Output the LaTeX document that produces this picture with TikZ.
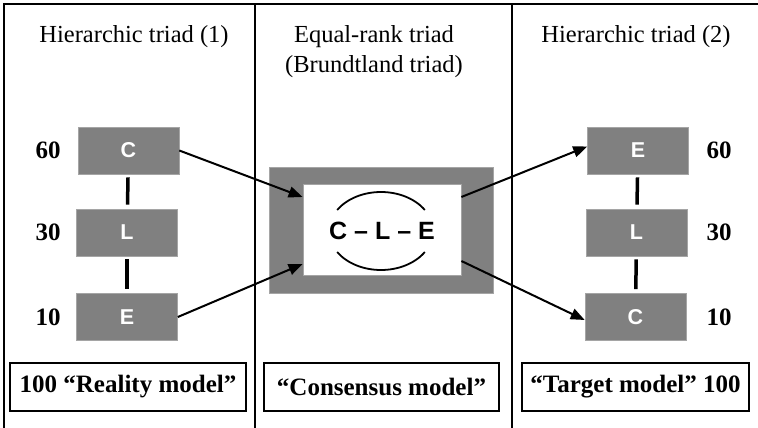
\documentclass[tikz,border=0pt]{standalone}
\usepackage{fontspec}
\setmainfont{Liberation Serif}
\newfontfamily\sansf{Liberation Sans}
\usetikzlibrary{arrows.meta}
\definecolor{boxgray}{RGB}{128,128,128}
\definecolor{boxedge}{RGB}{165,165,165}
\tikzset{
  gbox/.style={fill=boxgray, draw=boxedge, line width=0.6pt, minimum width=101pt, minimum height=47pt, inner sep=0pt, text=white, font=\sansf\bfseries\fontsize{21.5}{25}\selectfont},
  num/.style={inner sep=0pt, font=\bfseries\fontsize{25}{29}\selectfont},
  ttl/.style={inner sep=0pt, anchor=base, font=\fontsize{24.5}{29}\selectfont},
  lbl/.style={draw, line width=1.5pt, minimum height=48pt, inner sep=0pt, font=\bfseries\fontsize{25}{29}\selectfont},
  vlink/.style={line width=3.5pt, shorten <=3pt, shorten >=4pt},
  arr/.style={line width=2pt, -{Triangle[length=14pt,width=11pt]}},
  frame/.style={line width=2pt},
  ring/.style={line width=1.8pt}
}
\begin{document}
\begin{tikzpicture}[x=1pt,y=-1pt]
\useasboundingbox (0,0) rectangle (758,428);
% frame
\draw[frame] (4,428) -- (4,4) -- (758,4);
\draw[frame] (255,4) -- (255,428);
\draw[frame] (512,4) -- (512,428);
% titles
\node[ttl] (t1) at (134,43) {Hierarchic triad (1)};
\node[ttl] (t2a) at (374,43) {Equal-rank triad};
\node[ttl] (t2b) at (374,73) {(Brundtland triad)};
\node[ttl] (t3) at (636,43) {Hierarchic triad (2)};
% left column
\node[gbox] (lC) at (128.5,150.5) {C};
\node[gbox] (lL) at (127,232.5) {L};
\node[gbox] (lE) at (127,317) {E};
\draw[vlink] (lC) -- (lL);
\draw[vlink] (lL) -- (lE);
\node[num] (n60l) at (48,150.5) {60};
\node[num] (n30l) at (48,232.5) {30};
\node[num] (n10l) at (48,317) {10};
% right column
\node[gbox] (rE) at (638,150.5) {E};
\node[gbox] (rL) at (636.5,232.5) {L};
\node[gbox] (rC) at (635.5,317) {C};
\draw[vlink] (rE) -- (rL);
\draw[vlink] (rL) -- (rC);
\node[num] (n60r) at (719,150.5) {60};
\node[num] (n30r) at (719,232.5) {30};
\node[num] (n10r) at (719,317) {10};
% centre
\node[fill=boxgray, draw=boxedge, line width=0.6pt, minimum width=224pt, minimum height=126pt, inner sep=0pt] (outer) at (381,230) {};
\node[fill=white, draw=boxedge, line width=0.8pt, minimum width=158pt, minimum height=91pt, inner sep=0pt] (inner) at (382,229.5) {};
\node[inner sep=0pt, font=\sansf\bfseries\fontsize{25}{29}\selectfont] (cle) at (382,231) {C – L – E};
\draw[ring] plot[domain=32.6:147.4, samples=40, smooth] ({381+52*cos(\x)}, {231-39*sin(\x)});
\draw[ring] plot[domain=212.6:327.4, samples=40, smooth] ({381+52*cos(\x)}, {231-39*sin(\x)});
% arrows
\draw[arr] (lC.east) -- ([yshift=32.5pt]inner.west);
\draw[arr] (lE.east) -- ([yshift=-34.5pt]inner.west);
\draw[arr] ([yshift=32.5pt]inner.east) -- ([yshift=4pt]rE.west);
\draw[arr] ([yshift=-31.5pt]inner.east) -- ([yshift=-3pt]rC.west);
% labels
\node[lbl, minimum width=236pt] (m1) at (128,387) {100 “Reality model”};
\node[lbl, minimum width=235pt] (m2) at (381.5,387) {“Consensus model”};
\node[lbl, minimum width=227pt] (m3) at (635.5,387) {“Target model” 100};
\end{tikzpicture}
\end{document}
